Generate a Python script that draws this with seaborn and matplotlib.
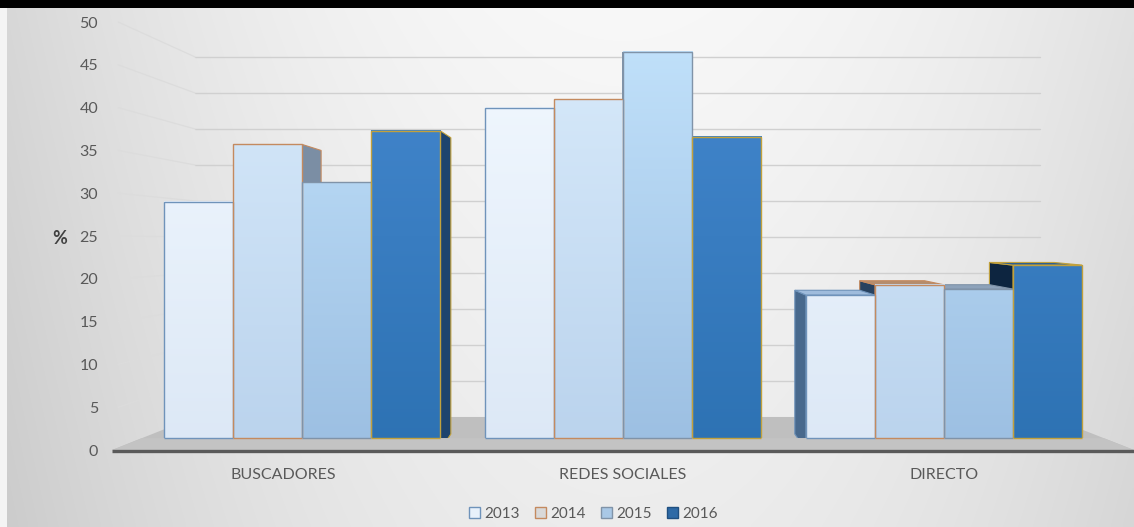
import numpy as np
import pandas as pd
import matplotlib
matplotlib.use("Agg")
import matplotlib.pyplot as plt
from matplotlib.patches import Polygon, Rectangle, Patch
from matplotlib.colors import to_rgb
import seaborn as sns

# ---- data -------------------------------------------------------------
categories = ["BUSCADORES", "REDES SOCIALES", "DIRECTO"]
years = ["2013", "2014", "2015", "2016"]
v2013 = [29.0, 40.0, 18.1]
v2014 = [35.7, 41.0, 19.3]
v2015 = [31.3, 46.5, 18.8]
v2016 = [37.3, 36.6, 21.6]
y_ticks = [0, 5, 10, 15, 20, 25, 30, 35, 40, 45, 50]

series = {"2013": v2013, "2014": v2014, "2015": v2015, "2016": v2016}
df = pd.DataFrame(
    [(cat, yr, vals[i]) for yr, vals in series.items() for i, cat in enumerate(categories)],
    columns=["canal", "año", "valor"],
)

# ---- styling ----------------------------------------------------------
grad_bottom = {"2013": "#dce8f6", "2014": "#bad3ed", "2015": "#9cbfe2", "2016": "#2d72b3"}
grad_top = {"2013": "#f3f9ff", "2014": "#d9ebfb", "2015": "#c2e2fb", "2016": "#4588cf"}
edge = {"2013": "#6f93ba", "2014": "#c48a5f", "2015": "#8093a8", "2016": "#c2a13c"}
right_face = {"2013": "#7f9bbd", "2014": "#7b8ea4", "2015": "#6d87a6", "2016": "#1e446e"}
left_face = {"2013": "#48698d", "2014": "#27425f", "2015": "#3d5c80", "2016": "#0d2540"}
top_face = {"2013": "#9fbcdc", "2014": "#b58d6d", "2015": "#8da2ba", "2016": "#2b5e92"}
legend_fill = {"2013": "#e8f1fb", "2014": "#d9d9d9", "2015": "#a9c8e6", "2016": "#2e6aa6"}

TXT = "#595959"

sns.set_theme(style="white")
plt.rcParams["font.family"] = ["Lato", "DejaVu Sans"]

W, H = 1134, 527
fig = plt.figure(figsize=(W / 100, H / 100), dpi=100)

# soft grey backdrop, brightest in the upper middle
bg = fig.add_axes([0, 0, 1, 1], zorder=-10)
gx = np.linspace(0, 1, 300)[None, :]
gy = np.linspace(0, 1, 150)[:, None]
bright = 0.972 - 0.13 * ((gx - 0.55) / 0.55) ** 2 - 0.045 * gy
bg.imshow(np.dstack([bright] * 3).clip(0, 1), extent=[0, 1, 0, 1], origin="upper",
          aspect="auto", interpolation="bilinear")
bg.set_xlim(0, 1)
bg.set_ylim(0, 1)
bg.set_axis_off()

# pale strip on the left edge and black band along the top edge
fig.patches.append(Rectangle((0, 0), 7 / W, 1, transform=fig.transFigure,
                             facecolor="#f4f4f4", edgecolor="none", zorder=4))
fig.patches.append(Rectangle((0, 1 - 8 / H), 1, 8 / H, transform=fig.transFigure,
                             facecolor="black", edgecolor="none", zorder=5))

XL, XR = -0.592, 2.592
YB, YT = -0.3, 50.2
ax = fig.add_axes([0.0988, 0.1412, 0.9012, 0.8203], zorder=1)
ax.patch.set_alpha(0)

sns.barplot(data=df, x="canal", y="valor", hue="año", order=categories,
            hue_order=years, width=0.86, palette=[grad_bottom[y] for y in years],
            saturation=1, errorbar=None, legend=False, ax=ax)

# ---- pseudo-3D scene --------------------------------------------------
VPX, VPY = 0.99, 25.9
SX, SY = 0.94, 0.928


def back(x, y):
    return VPX + SX * (x - VPX), VPY + SY * (y - VPY)


# floor
FLOOR_BACK = 3.86
fx_l_back, fx_r_back = -0.333, 2.33
floor = Polygon([(XL, 0), (XR, 0), (fx_r_back, FLOOR_BACK), (fx_l_back, FLOOR_BACK)],
                closed=True, facecolor="#bfbfbf", edgecolor="none", zorder=0.5)
ax.add_patch(floor)

# back-wall gridlines and their slanted continuation on the side wall
for v in y_ticks[1:]:
    yb = (450 - (417 - 7.2 * v)) / 8.56
    ax.plot([fx_l_back, 2.30], [yb, yb], color="#d0d0d0", lw=1.0, zorder=0.6)
    ax.plot([-0.573, fx_l_back], [v, yb], color="#dcdcdc", lw=0.9, zorder=0.6)

# collect bars in left-to-right order
bars = sorted([p for p in ax.patches if isinstance(p, Rectangle) and p.get_height() > 0],
              key=lambda p: p.get_x())
info = []
for k, p in enumerate(bars):
    yr = years[k % 4]
    x0, x1, h = p.get_x(), p.get_x() + p.get_width(), p.get_height()
    info.append((p, yr, x0, x1, h))

# side and top faces, farthest from the viewpoint first
for p, yr, x0, x1, h in sorted(info, key=lambda t: -abs((t[2] + t[3]) / 2 - VPX)):
    xc = (x0 + x1) / 2
    if xc < VPX:
        xs, col = x1, right_face[yr]
    else:
        xs, col = x0, left_face[yr]
    bx0, by0 = back(xs, 0)
    bx1, by1 = back(xs, h)
    ax.add_patch(Polygon([(xs, 0), (xs, h), (bx1, by1), (bx0, by0)], closed=True,
                         facecolor=col, edgecolor=edge[yr], lw=0.8, zorder=2))
    if h < VPY:
        a = back(x0, h)
        b = back(x1, h)
        ax.add_patch(Polygon([(x0, h), (x1, h), b, a], closed=True,
                             facecolor=top_face[yr], edgecolor=edge[yr], lw=0.8, zorder=2))

# front faces with a gentle vertical gradient
for p, yr, x0, x1, h in info:
    c0, c1 = np.array(to_rgb(grad_bottom[yr])), np.array(to_rgb(grad_top[yr]))
    t = np.linspace(0, h / 50.0, 64)[:, None, None]
    img = c0 + (c1 - c0) * t
    ax.imshow(img, extent=[x0, x1, 0, h], origin="lower", aspect="auto",
              interpolation="bilinear", zorder=3)
    p.set_facecolor("none")
    p.set_edgecolor(edge[yr])
    p.set_linewidth(1.0)
    p.set_zorder(4)

# strip of floor in front of the bars, with the bars' bottom edges on it
FRONT = 1.4
xl_f = XL + (FRONT / FLOOR_BACK) * (fx_l_back - XL)
xr_f = XR - (FRONT / FLOOR_BACK) * (XR - fx_r_back)
ax.add_patch(Polygon([(XL, 0), (XR, 0), (xr_f, FRONT), (xl_f, FRONT)], closed=True,
                     facecolor="#c3c3c3", edgecolor="none", zorder=5))
for p, yr, x0, x1, h in info:
    ax.plot([x0, x1], [FRONT, FRONT], color=edge[yr], lw=1.0, zorder=5.5,
            solid_capstyle="butt")

# base line
ax.plot([XL, XR], [-0.15, -0.15], color="#5a5a5a", lw=2.4, zorder=6,
        solid_capstyle="butt", clip_on=False)

# ---- axes cosmetics ---------------------------------------------------
ax.set_xlim(XL, XR)
ax.set_ylim(YB, YT)
ax.set_yticks(y_ticks)
ax.set_yticklabels([str(t) for t in y_ticks])
ax.set_xticks([-0.06, 1, 2])
ax.set_xticklabels(categories)
ax.tick_params(axis="y", length=0, pad=10, labelsize=11.5, labelcolor=TXT)
ax.tick_params(axis="x", length=0, pad=11, labelsize=11.5, labelcolor=TXT)
ax.set_xlabel("")
ax.set_ylabel("")
for s in ax.spines.values():
    s.set_visible(False)
ax.grid(False)

fig.text(60 / W, 1 - 238 / H, "%", fontsize=13, color="#404040",
         fontweight="bold", ha="center", va="center")

handles = [Patch(facecolor=legend_fill[y], edgecolor=edge[y] if y != "2016" else "#1f4f80",
                 linewidth=1.0) for y in years]
fig.legend(handles, years, loc="center", bbox_to_anchor=(593 / W, 1 - 514 / H),
           ncol=4, frameon=False, fontsize=11, handlelength=0.75, handleheight=0.75,
           handletextpad=0.25, columnspacing=1.0, labelcolor=TXT)

fig.savefig("out.png", dpi=100)
